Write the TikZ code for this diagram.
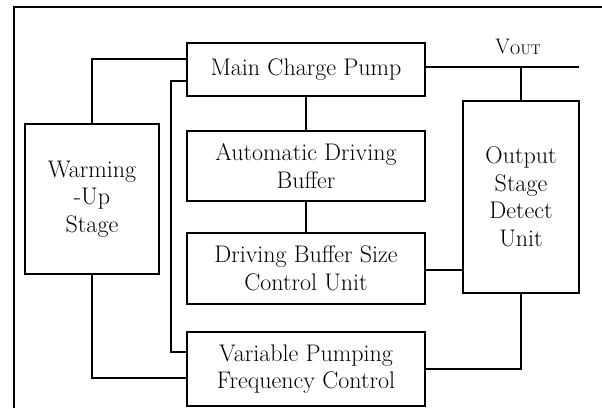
\documentclass[tikz,border=0pt]{standalone}
\usetikzlibrary{positioning}
\begin{document}
\begin{tikzpicture}[x=1pt,y=-1pt,node distance=30pt,
 blk/.style={draw,line width=2pt,outer sep=0pt,inner sep=0pt,minimum width=238pt,align=center,font=\fontsize{24}{27.5}\selectfont},
 wire/.style={line width=1.4pt}]
 \useasboundingbox (0,0) rectangle (602,408);
 % outer frame
 \draw[wire] (14,408) -- (14,7) -- (602,7);
 % centre column
 \node[blk,minimum height=53pt] (mcp) at (306,69.5) {Main Charge Pump};
 \node[blk,minimum height=70pt,below=35pt of mcp] (adb) {Automatic Driving\\Buffer};
 \node[blk,minimum height=71pt,below=32pt of adb] (dbs) {Driving Buffer Size\\Control Unit};
 \node[blk,minimum height=74pt,below=28pt of dbs] (vpf) {Variable Pumping\\Frequency Control};
 % side blocks
 \node[blk,minimum width=134pt,minimum height=150pt] (wus) at (92,199) {Warming\\-Up\\Stage};
 \node[blk,minimum width=116pt,minimum height=192pt] (odu) at (521,197) {Output\\Stage\\Detect\\Unit};
 % output line
 \coordinate (vout) at (579,67);
 \draw[wire] (mcp.east |- vout) -- (vout);
 \draw[wire] (odu.north) -- (odu.north |- vout);
 \node (voutlbl) at (518,47) {\fontsize{21}{21}\selectfont V\raisebox{-1.5pt}{\fontsize{14}{14}\selectfont OUT}};
 % connections
 \draw[wire] (mcp) -- (adb);
 \draw[wire] (adb) -- (dbs);
 \draw[wire] (wus.north) |- ([yshift=10.5pt]mcp.west);
 \draw[wire] ([yshift=-11.5pt]mcp.west) -- ++(-16,0) |- ([yshift=17pt]vpf.west);
 \draw[wire] (wus.south) |- ([yshift=-9pt]vpf.west);
 \draw[wire] ([yshift=-1.5pt]dbs.east) -- ([yshift=-1.5pt]dbs.east -| odu.west);
 \draw[wire] (odu.south) |- (vpf.east);
\end{tikzpicture}
\end{document}
